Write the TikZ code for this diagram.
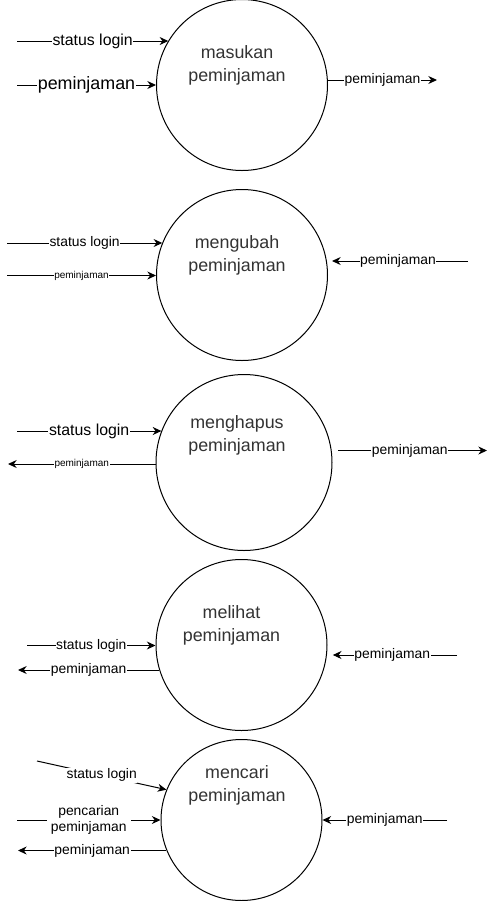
\documentclass[tikz,border=0pt]{standalone}
\usepackage{fontspec}
\setmainfont{Liberation Sans}
\usetikzlibrary{arrows.meta}
\definecolor{txtgray}{HTML}{333333}
\tikzset{
  proc/.style={circle, draw, line width=0.75pt, minimum size=#1, inner sep=0pt},
  proc/.default=128.25pt,
  ptext/.style={align=center, text=txtgray, font=\fontsize{13.4}{17.25}\selectfont},
  flow/.style={-{Stealth[length=6.5pt,width=6pt]}, line width=0.75pt},
  lbl/.style={fill=white, inner xsep=0.5pt, inner ysep=1pt},
  lblbig/.style={lbl, font=\fontsize{13.4}{16}\selectfont},
  lblmid/.style={lbl, font=\fontsize{11.9}{14}\selectfont},
  lblnorm/.style={lbl, font=\fontsize{10.4}{12.5}\selectfont},
  lblsmall/.style={lbl, font=\fontsize{7.5}{9}\selectfont},
}
\begin{document}
\begin{tikzpicture}[x=0.75pt,y=-0.75pt]
  \useasboundingbox (0,0) rectangle (497,901);

  % Draw the processes
  \node[proc] (c1) at (242,85) {};
  \node[proc] (c2) at (242,275) {};
  \node[proc=132pt] (c3) at (244,462.5) {};
  \node[proc] (c4) at (241.5,645) {};
  \node[proc=120.75pt] (c5) at (241.5,820) {};

  % Names of the processes
  \foreach \n/\x/\y/\t in {1/237/65/masukan, 2/237/255.5/mengubah, 3/237/435.5/menghapus, 4/231.5/625.5/melihat, 5/237/785/mencari} {
    \node[ptext] (t\n) at (\x,\y) {\t\\peminjaman};
  }

  % Free ends of the flows
  \coordinate (p1a) at (17,41);
  \coordinate (p1b) at (17,85);
  \coordinate (p1c) at (437,80);
  \coordinate (p2a) at (7,243);
  \coordinate (p2b) at (7,275.5);
  \coordinate (p2c) at (468,261);
  \coordinate (p3a) at (17,431);
  \coordinate (p3b) at (8,464);
  \coordinate (p3c) at (487,450.5);
  \coordinate (p4a) at (27,645.5);
  \coordinate (p4b) at (18,670);
  \coordinate (p4c) at (457,655);
  \coordinate (p5a) at (37,761);
  \coordinate (p5b) at (17,820);
  \coordinate (p5c) at (18,850.5);
  \coordinate (p5d) at (447,820);

  % masukan peminjaman
  \draw[flow] (p1a) -- node[lblmid] {status login} (p1a -| c1.149);
  \draw[flow] (p1b) -- node[lblbig] {peminjaman} (p1b -| c1.west);
  \draw[flow] (c1.east |- p1c) -- node[lblnorm] {peminjaman} (p1c);

  % mengubah peminjaman
  \draw[flow] (p2a) -- node[lblnorm] {status login} (p2a -| c2.158);
  \draw[flow] (p2b) -- node[lblsmall] {peminjaman} (p2b -| c2.west);
  \draw[flow, shorten >=3pt] (p2c) -- node[lblnorm] {peminjaman} (p2c -| c2.east);

  % menghapus peminjaman
  \draw[flow] (p3a) -- node[lblmid] {status login} (p3a -| c3.159);
  \draw[flow] (c3.west |- p3b) -- node[lblsmall] {peminjaman} (p3b);
  \draw[flow, shorten <=4pt] (c3.east |- p3c) -- node[lblnorm] {peminjaman} (p3c);

  % melihat peminjaman
  \draw[flow] (p4a) -- node[lblnorm] {status login} (p4a -| c4.west);
  \draw[flow] (c4.197 |- p4b) -- node[lblnorm] {peminjaman} (p4b);
  \draw[flow, shorten >=4pt] (p4c) -- node[lblnorm] {peminjaman} (p4c -| c4.east);

  % mencari peminjaman
  \draw[flow] (p5a) -- node[lblnorm] {status login} (c5.158);
  \draw[flow] (p5b) -- node[lblnorm, align=center, inner xsep=3pt] {pencarian\\peminjaman} (p5b -| c5.west);
  \draw[flow] (c5.202 |- p5c) -- node[lblnorm] {peminjaman} (p5c);
  \draw[flow] (p5d) -- node[lblnorm] {peminjaman} (p5d -| c5.east);
\end{tikzpicture}
\end{document}
